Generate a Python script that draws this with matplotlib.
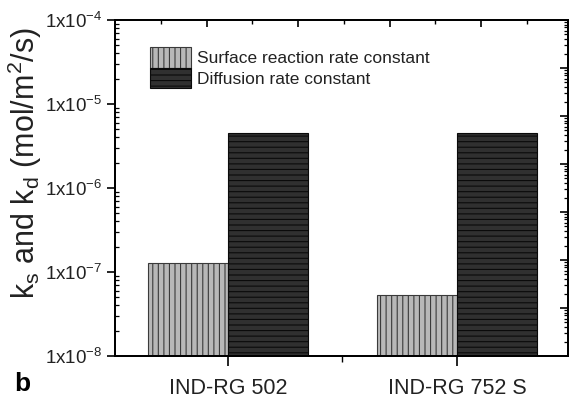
import matplotlib
matplotlib.use("Agg")
import matplotlib.pyplot as plt
import numpy as np
from matplotlib.ticker import FixedLocator, LogLocator, NullFormatter

plt.rcParams['font.family'] = ['Liberation Sans', 'DejaVu Sans']
plt.rcParams['mathtext.fontset'] = 'custom'
plt.rcParams['mathtext.rm'] = 'Liberation Sans'
plt.rcParams['mathtext.it'] = 'Liberation Sans:italic'
plt.rcParams['mathtext.bf'] = 'Liberation Sans:bold'
plt.rcParams['hatch.linewidth'] = 0.8

# ---- data ----
categories = ['IND-RG 502', 'IND-RG 752 S']
surface_rate = [1.28e-7, 5.3e-8]
diffusion_rate = [4.5e-6, 4.5e-6]
series_labels = ['Surface reaction rate constant', 'Diffusion rate constant']
ytick_values = [1e-8, 1e-7, 1e-6, 1e-5, 1e-4]
ytick_labels = [r'1x10$^{\mathregular{-8}}$', r'1x10$^{\mathregular{-7}}$',
                r'1x10$^{\mathregular{-6}}$', r'1x10$^{\mathregular{-5}}$',
                r'1x10$^{\mathregular{-4}}$']

fig = plt.figure(figsize=(5.71, 4.0), dpi=100)
ax = fig.add_axes([115/571, 1-356/400, 453/571, 336/400])

x = np.arange(1, len(categories) + 1)
w = 0.35
ax.bar(x - w/2, surface_rate, w, color='#b8b8b8', edgecolor='#3a3a3a',
       hatch='|||', linewidth=0.8, label=series_labels[0], zorder=2)
ax.bar(x + w/2, diffusion_rate, w, color='#303030', edgecolor='#0a0a0a',
       hatch='---', linewidth=0.8, label=series_labels[1], zorder=2)

ax.set_yscale('log')
ax.set_ylim(1e-8, 1e-4)
ax.set_xlim(0.507, 2.485)
ax.set_yticks(ytick_values)
ax.set_yticklabels(ytick_labels, fontsize=13.5, color='#222222')
ax.yaxis.set_minor_locator(LogLocator(base=10, subs=np.arange(2, 10)))
ax.yaxis.set_minor_formatter(NullFormatter())
ax.set_xticks(x)
ax.set_xticklabels(categories, fontsize=15.5, color='#222222')
ax.xaxis.set_minor_locator(FixedLocator([1.5]))

ax.tick_params(axis='y', which='major', direction='out', length=6, width=1.2, pad=3, right=False)
ax.tick_params(axis='y', which='minor', direction='in', length=3, width=0.9, right=False)
ax.tick_params(axis='x', which='major', direction='out', length=7, width=1.2, pad=9, top=False)
ax.tick_params(axis='x', which='minor', direction='out', length=4, width=1.0, top=False)

for s in ax.spines.values():
    s.set_linewidth(1.2)

ax.set_ylabel(r'k$_{\mathregular{s}}$ and k$_{\mathregular{d}}$ (mol/m$^{\mathregular{2}}$/s)',
              fontsize=22, color='#222222')
ax.yaxis.set_label_coords((44-115)/453, (356-163)/336)

# top twin axis (ticks only)
axt = ax.twiny()
axt.set_xlim(0, 4.95)
axt.set_xticks([1, 2, 3, 4])
axt.xaxis.set_minor_locator(FixedLocator([0.5, 1.5, 2.5, 3.5, 4.5]))
axt.tick_params(axis='x', which='major', direction='in', length=5, width=1.2, labeltop=False)
axt.tick_params(axis='x', which='minor', direction='in', length=3, width=1.0)

# right twin axis (ticks only)
axr = ax.twinx()
axr.set_yscale('log')
axr.set_ylim(1, 1e7)
axr.yaxis.set_major_locator(LogLocator(base=10, numticks=10))
axr.yaxis.set_minor_locator(LogLocator(base=10, subs=np.arange(2, 10), numticks=10))
axr.yaxis.set_minor_formatter(NullFormatter())
axr.tick_params(axis='y', which='major', direction='in', length=6, width=1.2, labelright=False)
axr.tick_params(axis='y', which='minor', direction='in', length=3, width=0.9)
for a in (axt, axr):
    for s in a.spines.values():
        s.set_linewidth(1.2)

leg = ax.legend(loc='upper left', bbox_to_anchor=((150-115)/453, (356-47)/336),
                frameon=False, fontsize=12.5, handlelength=2.35, handleheight=1.45,
                handletextpad=0.35, labelspacing=0.0, borderpad=0, borderaxespad=0)
for t in leg.get_texts():
    t.set_color('#222222')

fig.text(22/571, 1-384/400, 'b', fontsize=19, fontweight='bold', ha='center', va='center')

fig.savefig('out.png', dpi=100)
